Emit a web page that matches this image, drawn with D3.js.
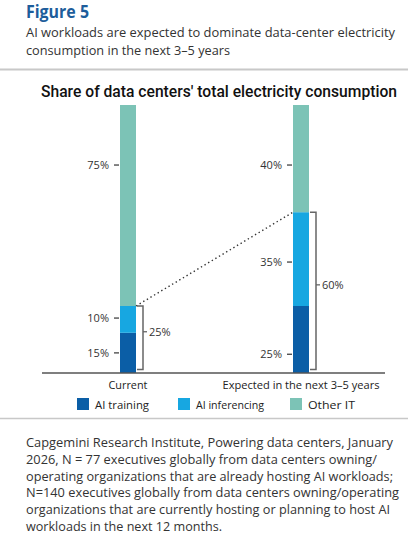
<!DOCTYPE html>
<html>
<head>
<meta charset="utf-8">
<script src="https://cdn.jsdelivr.net/npm/d3@7"></script>
<style>
  body { margin: 0; background: #fff; }
  svg { display: block; }
  text { font-family: "Open Sans", "Noto Sans", sans-serif; }
</style>
</head>
<body>
<div id="chart"></div>
<script>
// ---- data ----
const categories = ["Current", "Expected in the next 3–5 years"];
const seriesNames = ["AI training", "AI inferencing", "Other IT"];
const aiTraining = [15, 25];
const aiInferencing = [10, 35];
const otherIT = [75, 40];
const aiTotal = [25, 60];
// where each segment's value label sits on the value axis (tick values)
const trainingLabelAt = [7.5, 7];
const inferencingLabelAt = [20.5, 41.4];
const otherLabelAt = [77.6, 77.6];
const figureLabel = "Figure 5";
const subtitleLines = [
  "AI workloads are expected to dominate data-center electricity",
  "consumption in the next 3–5 years"
];
const chartTitle = "Share of data centers' total electricity consumption";
const footnoteLines = [
  "Capgemini Research Institute, Powering data centers, January",
  "2026, N = 77 executives globally from data centers owning/",
  "operating organizations that are already hosting AI workloads;",
  "N=140 executives globally from data centers owning/operating",
  "organizations that are currently hosting or planning to host AI",
  "workloads in the next 12 months."
];

// ---- styles ----
const colors = ["#0b5ea6", "#17a7e1", "#7cc3b6"];
const W = 414, H = 548;

const svg = d3.select("#chart").append("svg").attr("width", W).attr("height", H);
svg.append("rect").attr("width", W).attr("height", H).attr("fill", "#fff");

function fit(sel, width) {
  sel.each(function () {
    const w = this.getComputedTextLength();
    if (w > 0) d3.select(this).attr("textLength", width).attr("lengthAdjust", "spacingAndGlyphs");
  });
}
// shrink font-size so natural width equals target, then fine-fit
function fitSize(sel, width) {
  sel.each(function () {
    const t = d3.select(this);
    const fs = +t.attr("font-size");
    const w = this.getComputedTextLength();
    if (w > width) t.attr("font-size", fs * width / w);
  });
  sel.call(fit, width);
}

// header
svg.append("text").attr("x", 26).attr("y", 18).attr("font-size", 17).attr("font-weight", 700)
  .attr("fill", "#1d5d9b").text(figureLabel).call(fit, 63);
const subW = [369, 204];
subtitleLines.forEach((l, i) => {
  svg.append("text").attr("x", 26).attr("y", 37 + i * 17.5).attr("font-size", 13.5)
    .attr("fill", "#333").text(l).call(fit, subW[i]);
});
svg.append("line").attr("x1", 0).attr("x2", 408).attr("y1", 69.5).attr("y2", 69.5)
  .attr("stroke", "#c8c8c8").attr("stroke-width", 2);

// chart title
svg.append("text").attr("x", 41).attr("y", 97).attr("font-size", 16.5).attr("font-weight", 500)
  .style("font-family", "Roboto, 'Open Sans', sans-serif")
  .attr("fill", "#111").text(chartTitle).call(fitSize, 356);

// scales
const y = d3.scaleLinear().domain([0, 100]).range([373, 105]);
const x = d3.scalePoint().domain(categories).range([128, 301]);
const barW = 16;

const stackData = categories.map((c, i) => ({
  cat: c, "AI training": aiTraining[i], "AI inferencing": aiInferencing[i], "Other IT": otherIT[i]
}));
const stacked = d3.stack().keys(seriesNames)(stackData);

const g = svg.append("g");
stacked.forEach((s, si) => {
  g.selectAll(null).data(s).enter().append("rect")
    .attr("x", d => x(d.data.cat) - barW / 2)
    .attr("width", barW)
    .attr("y", d => y(d[1]))
    .attr("height", d => y(d[0]) - y(d[1]))
    .attr("fill", colors[si]);
});

// baseline
svg.append("line").attr("x1", 42).attr("x2", 385).attr("y1", y(0)).attr("y2", y(0))
  .attr("stroke", "#555").attr("stroke-width", 1.5);

// segment value labels with tick marks to the left
const labelSets = [
  { vals: aiTraining, at: trainingLabelAt },
  { vals: aiInferencing, at: inferencingLabelAt },
  { vals: otherIT, at: otherLabelAt }
];
labelSets.forEach(ls => {
  categories.forEach((c, i) => {
    const cx = x(c) - barW / 2;
    const yy = y(ls.at[i]);
    svg.append("line").attr("x1", cx - 6).attr("x2", cx - 1).attr("y1", yy).attr("y2", yy)
      .attr("stroke", "#333").attr("stroke-width", 1.2);
    svg.append("text").attr("x", cx - 11).attr("y", yy + 4).attr("text-anchor", "end")
      .attr("font-size", 11).attr("fill", "#333").text(ls.vals[i] + "%");
  });
});

// brackets for AI total
categories.forEach((c, i) => {
  const rx = x(c) + barW / 2;
  const top = y(aiTotal[i]);
  const bot = y(0) - 3.5;
  const vx = rx + 7;
  svg.append("path")
    .attr("d", `M${rx + 1},${top}H${vx}V${bot}H${rx + 1}`)
    .attr("fill", "none").attr("stroke", "#666").attr("stroke-width", 1.5);
  const my = (top + bot) / 2 - 6;
  svg.append("line").attr("x1", vx).attr("x2", vx + 4).attr("y1", my).attr("y2", my)
    .attr("stroke", "#666").attr("stroke-width", 1.3);
  svg.append("text").attr("x", vx + 6).attr("y", my + 4).attr("font-size", 11)
    .attr("fill", "#333").text(aiTotal[i] + "%");
});

// dotted connector between AI tops
svg.append("line")
  .attr("x1", x(categories[0]) + barW / 2).attr("y1", y(aiTotal[0]))
  .attr("x2", x(categories[1]) - barW / 2).attr("y2", y(aiTotal[1]))
  .attr("stroke", "#333").attr("stroke-width", 1.4).attr("stroke-dasharray", "1.4,2.8");

// category labels
const catW = [39, 157];
categories.forEach((c, i) => {
  svg.append("text").attr("x", x(c)).attr("y", 389).attr("text-anchor", "middle")
    .attr("font-size", 11.5).attr("fill", "#222").text(c).call(fit, catW[i]);
});

// legend
const legX = [77, 178, 290];
const legW = [54, 68, 47];
seriesNames.forEach((n, i) => {
  svg.append("rect").attr("x", legX[i]).attr("y", 398).attr("width", 12).attr("height", 12)
    .attr("fill", colors[i]);
  svg.append("text").attr("x", legX[i] + 18).attr("y", 408.5).attr("font-size", 11.5)
    .attr("fill", "#222").text(n).call(fit, legW[i]);
});

svg.append("line").attr("x1", 0).attr("x2", 408).attr("y1", 418.5).attr("y2", 418.5)
  .attr("stroke", "#c8c8c8").attr("stroke-width", 1.5);

// footnote
const footW = [367, 351, 367, 373, 364, 196];
footnoteLines.forEach((l, i) => {
  svg.append("text").attr("x", 26).attr("y", 447 + i * 16.8).attr("font-size", 13)
    .attr("fill", "#333").text(l).call(fit, footW[i]);
});
</script>
</body>
</html>
